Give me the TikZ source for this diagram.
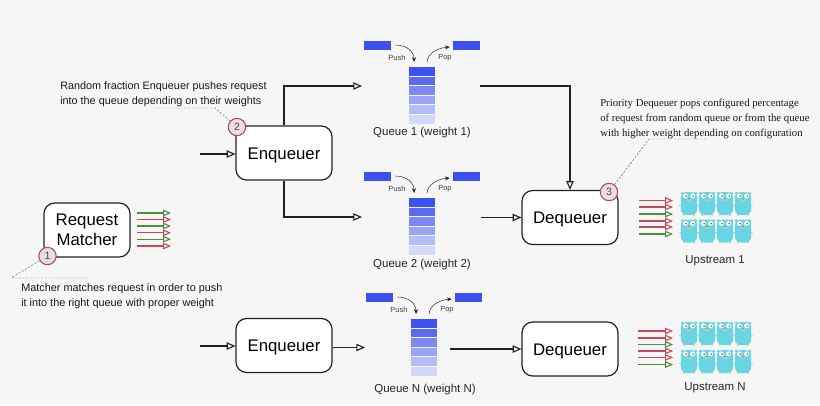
\documentclass[tikz,border=0pt]{standalone}
\usepackage{fontspec}
\setmainfont{Liberation Sans}
\newfontfamily\serifnote{Liberation Serif}
\usetikzlibrary{arrows.meta,positioning,calc}
\definecolor{pagebg}{HTML}{F6F6F6}
\definecolor{boxline}{HTML}{222222}
\definecolor{ringred}{HTML}{A34A62}
\definecolor{slotblue}{HTML}{3D50F0}
\definecolor{redflow}{HTML}{C8475A}
\definecolor{greenflow}{HTML}{4E8F3F}
\definecolor{gocyan}{HTML}{68D5E4}
\definecolor{gopaw}{HTML}{D9C9A8}

\begin{document}
\begin{tikzpicture}[
    x=0.75pt, y=-0.75pt,
    stage/.style={rectangle, draw=boxline, line width=0.9pt, rounded corners=8pt, minimum width=72pt, minimum height=40.5pt, align=center, fill=white, font=\fontsize{12.6}{15.2}\selectfont, inner sep=0pt, execute at begin node={\rule{0pt}{12pt}}},
    arrow/.style={-{Triangle[open,length=6.5pt,width=5.5pt]}, line width=0.85pt, draw=boxline},
    flow/.style={-{Triangle[open,length=6pt,width=5pt]}, line width=0.8pt},
    curved/.style={-{Stealth[length=3.5pt,width=3pt]}, line width=0.35pt, draw=boxline},
    leader/.style={dashed, dash pattern=on 1.6pt off 1.2pt, line width=0.35pt, draw=black!60},
    badge/.style={circle, draw=ringred, line width=0.8pt, minimum size=13pt, inner sep=0pt, fill=#1, font=\fontsize{8}{9}\selectfont, text=black!70},
    note/.style={anchor=west, align=left, inner sep=0pt, text=black!90, font=\fontsize{8.15}{11.2}\selectfont},
    qlabel/.style={inner sep=0pt, text=black!85, font=\fontsize{8.6}{10}\selectfont},
    tiny/.style={inner sep=0pt, text=black!75, font=\fontsize{5.6}{7}\selectfont},
    slot/.style={rectangle, fill=slotblue, draw=none, minimum width=20.25pt, minimum height=6.6pt, inner sep=0pt},
    cell/.style={rectangle, fill=slotblue!#1, draw=none, minimum width=19.5pt, minimum height=6.5pt, inner sep=0pt},
    queue/.pic={
        \node[slot] (-push) at (-44.5,-26) {};
        \node[slot] (-pop) at (44.5,-26) {};
        \foreach \n/\shade in {0/100,1/85,2/68,3/52,4/38,5/22}
            \node[cell=\shade] (-r\n) at (0,{\n*9.55}) {};
        \node[tiny] at (-25,-13.5) {Push};
        \node[tiny] at (23,-13.5) {Pop};
        \draw[curved] ($(-push.east)+(4,-0.5)$) .. controls +(12,0) and +(0,-10) .. ($(-r0.north)+(-8,-5)$);
        \draw[curved] ($(-r0.north)+(5,-5)$) .. controls +(1,-9) and +(-12,1) .. ($(-pop.west)+(-3,1.5)$);
    },
    gopher/.pic={
        \fill[gopaw] (-8.8,2) circle (1) (8.8,2) circle (1) (-5,11.4) circle (1.3) (5,11.4) circle (1.3);
        \fill[gocyan] (-6.6,-10.2) circle (1.8) (6.6,-10.2) circle (1.8);
        \fill[gocyan, rounded corners=4.5pt] (-8.2,-11.5) rectangle (8.2,11.5);
        \fill[white] (-3.6,-7.6) circle (2.5) (3.6,-7.6) circle (2.5);
        \fill[black!70] (-2.9,-7.4) circle (0.8) (4.2,-7.4) circle (0.8);
        \fill[gopaw] (0,-3.8) ellipse (2 and 1.4);
        \fill[black!65] (0,-4.6) ellipse (0.9 and 0.5);
    }
]

\fill[pagebg] (0,0) rectangle (820,405);

% stages
\node[stage, minimum width=64.5pt] (matcher) at (87,230) {Request\\Matcher};
\node[stage] (enq1) at (284,153) {Enqueuer};
\node[stage] (deq1) at (570,217.5) {Dequeuer};
\node[stage] (enqN) at (284,345.5) {Enqueuer};
\node[stage] (deqN) at (570,349) {Dequeuer};

% queues
\pic (q1) at (422,71.5) {queue};
\pic (q2) at (422,202.5) {queue};
\pic (qN) at (424,323.5) {queue};
\node[qlabel] (q1label) at (422,132.5) {Queue 1 (weight 1)};
\node[qlabel] (q2label) at (422,264.5) {Queue 2 (weight 2)};
\node[qlabel] (qNlabel) at (425,390) {Queue N (weight N)};

% free ends
\coordinate (enq1in) at (200,154);
\coordinate (enqNin) at (200,346);
\coordinate (q1in) at (362,86);
\coordinate (q2in) at (362,217);
\coordinate (qNin) at (365,347.5);
\coordinate (q1out) at (480,86);
\coordinate (q2out) at (481,217.5);
\coordinate (qNout) at (450,349);

\draw[arrow] (enq1in) -- (enq1.west |- enq1in);
\draw[arrow] (enqNin) -- (enqN.west |- enqNin);
\draw[arrow] (enq1.north) |- (q1in);
\draw[arrow] (enq1.south) |- (q2in);
\draw[arrow] (enqN.east |- qNin) -- (qNin);
\draw[arrow] (q1out) -| (deq1.north);
\draw[arrow] (q2out) -- (deq1.west |- q2out);
\draw[arrow] (qNout) -- (deqN.west);

% request flows
\foreach \y/\c in {213/greenflow,219.5/redflow,226/greenflow,232.8/redflow,239.2/greenflow,246/redflow}
    \draw[flow, draw=\c] (137,\y) -- (171,\y);
\foreach \y/\c in {200.5/redflow,207/redflow,214/greenflow,221/redflow,227/redflow,234/greenflow}
    \draw[flow, draw=\c] (639,\y) -- (673,\y);
\foreach \y/\c in {331/redflow,338/redflow,344.5/greenflow,351/redflow,357.5/redflow,364.5/greenflow}
    \draw[flow, draw=\c] (638,\y) -- (673,\y);

% upstreams
\foreach \x in {689,707,725,743}
    \foreach \y in {203.5,231,333.5,361.5}
        \pic at (\x,\y) {gopher};
\node[qlabel] (up1) at (715,260.5) {Upstream 1};
\node[qlabel] (upN) at (715,387.5) {Upstream N};

% notes
\node[note] (note1) at (21,296) {Matcher matches request in order to push\\it into the right queue with proper weight};
\node[note, font=\fontsize{8.12}{11.2}\selectfont] (note2) at (60,94) {Random fraction Enqueuer pushes request\\into the queue depending on their weights};
\node[note, font=\serifnote\fontsize{8.05}{11.2}\selectfont] (note3) at (600,119) {Priority Dequeuer pops configured percentage\\of request from random queue or from the queue\\with higher weight depending on configuration};

% badges
\node[badge=black!12] (b1) at (47.5,256) {1};
\node[badge=ringred!18] (b2) at (237,127) {2};
\node[badge=ringred!18] (b3) at (609,192) {3};

\coordinate (lead1a) at (11,278);
\coordinate (lead1b) at (90,278);
\coordinate (lead2a) at (215,108);
\coordinate (lead2b) at (152,108);
\coordinate (lead3a) at (649,139);
\coordinate (lead3b) at (708,139);
\draw[leader] (b1) -- (lead1a) -- (lead1b);
\draw[leader] (b2) -- (lead2a) -- (lead2b);
\draw[leader] (b3) -- (lead3a) -- (lead3b);

\end{tikzpicture}
\end{document}
